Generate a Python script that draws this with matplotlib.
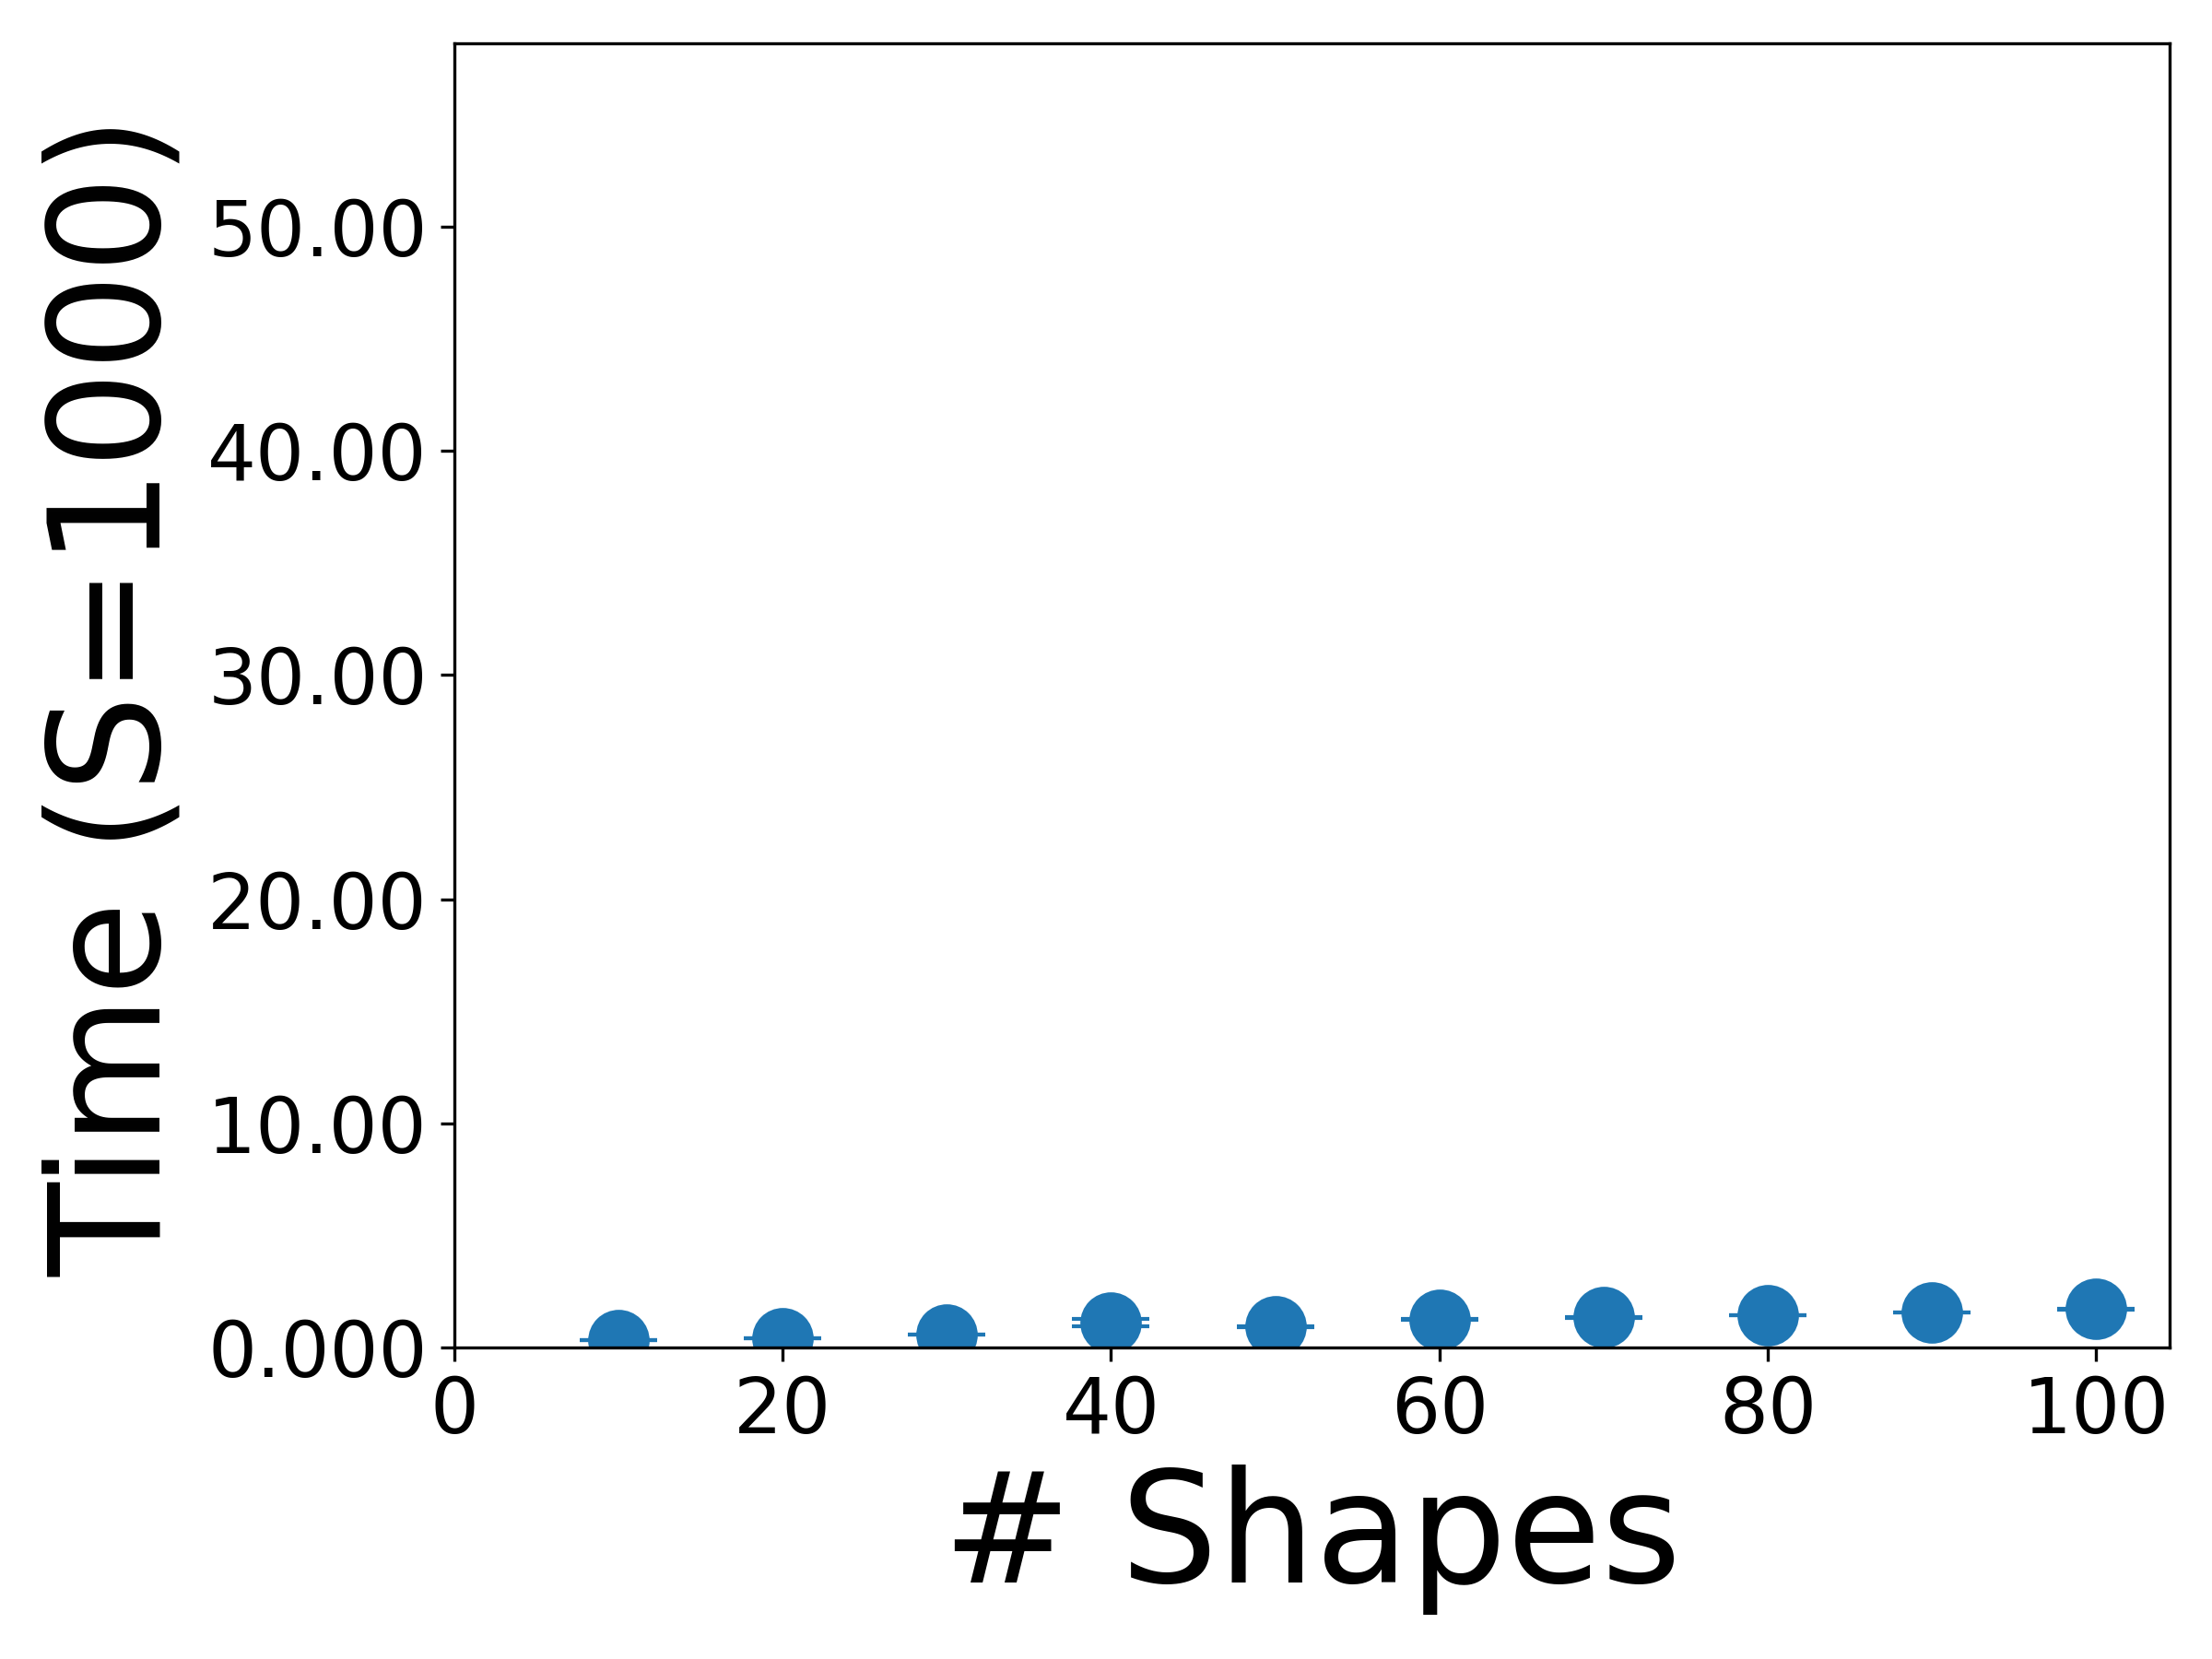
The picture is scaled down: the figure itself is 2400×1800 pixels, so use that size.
import numpy as np
import matplotlib
matplotlib.use('Agg')
import matplotlib.pyplot as plt
from matplotlib.ticker import FixedLocator, FixedFormatter

# data
n_shapes = [10, 20, 30, 40, 50, 60, 70, 80, 90, 100]
time_mean = [0.33, 0.42, 0.58, 1.12, 0.93, 1.25, 1.34, 1.43, 1.57, 1.71]
time_err = [0.01, 0.01, 0.01, 0.16, 0.01, 0.02, 0.01, 0.01, 0.01, 0.01]

ytick_vals = [0, 10, 20, 30, 40, 50]
ytick_labels = ['0.000', '10.00', '20.00', '30.00', '40.00', '50.00']

fig, ax = plt.subplots(figsize=(8, 6), dpi=300)
fig.subplots_adjust(left=0.2054, right=0.981, bottom=0.1878, top=0.974)

ax.errorbar(n_shapes, time_mean, yerr=time_err, fmt='o', markersize=15,
            capsize=10, color='#1f77b4')

ax.set_xlim(0, 104.5)
ax.set_ylim(0, 58.2)
ax.yaxis.set_major_locator(FixedLocator(ytick_vals))
ax.yaxis.set_major_formatter(FixedFormatter(ytick_labels))
ax.tick_params(labelsize=20)

ax.set_xlabel('# Shapes', fontsize=40)
ax.set_ylabel('Time (S=1000)', fontsize=40)

plt.savefig('out.png', dpi=300)
